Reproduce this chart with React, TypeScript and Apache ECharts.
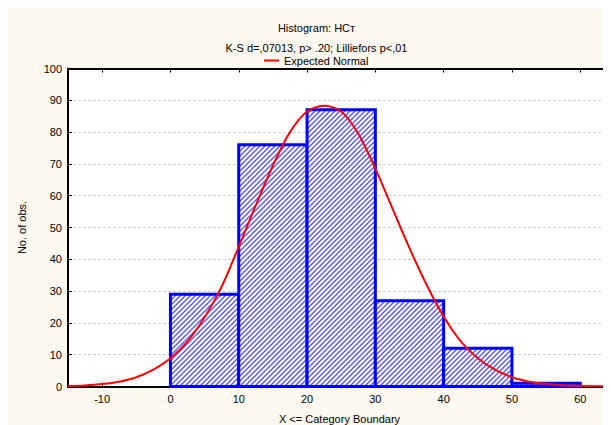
import React, { useEffect, useRef } from "react";
import * as echarts from "echarts";

// Histogram bins (lower / upper category boundaries) and counts
const binLow = [0, 10, 20, 30, 40, 50];
const binHigh = [10, 20, 30, 40, 50, 60];
const binCount = [29, 76, 87, 27, 12, 1];

// Expected normal curve
const curveX = [
  -15, -12.5, -10, -7.5, -5, -2.5, 0, 2.5, 5, 7.5, 10, 12.5, 15, 17.5, 20, 22.5, 25, 27.5, 30, 32.5, 35, 37.5, 40,
  42.5, 45, 47.5, 50, 52.5, 55, 57.5, 60, 62.5, 65,
];
const curveY = [
  0.15, 0.35, 0.75, 1.5, 2.9, 5.3, 8.9, 14.2, 21.8, 31.4, 44, 57, 69.5, 80, 86.5, 88.3, 86.5, 79.5, 68.5, 56, 43.5, 32,
  22, 14.2, 8.9, 5.3, 2.9, 1.5, 0.75, 0.35, 0.15, 0.07, 0.03,
];

// Axis tick labels
const xTicks = [-10, 0, 10, 20, 30, 40, 50, 60];

const titleText = "Histogram: НСт";
const subtitleText = "K-S d=,07013, p> .20; Lilliefors p<,01";
const legendName = "Expected Normal";
const xName = "X <= Category Boundary";
const yName = "No. of obs.";

const FONT = "'Liberation Sans', Arial, sans-serif";

function makePattern(): HTMLCanvasElement {
  const c = document.createElement("canvas");
  const s = 5;
  c.width = s;
  c.height = s;
  const ctx = c.getContext("2d")!;
  ctx.fillStyle = "#ffffff";
  ctx.fillRect(0, 0, s, s);
  ctx.strokeStyle = "#5050ff";
  ctx.lineWidth = 1.3;
  ctx.beginPath();
  ctx.moveTo(-1, s + 1);
  ctx.lineTo(s + 1, -1);
  ctx.moveTo(-1, 1);
  ctx.lineTo(1, -1);
  ctx.moveTo(s - 1, s + 1);
  ctx.lineTo(s + 1, s - 1);
  ctx.stroke();
  return c;
}

export default function App() {
  const ref = useRef<HTMLDivElement>(null);
  useEffect(() => {
    if (!ref.current) return;
    const chart = echarts.init(ref.current, undefined, { renderer: "svg" });
    const pattern = { image: makePattern(), repeat: "repeat" };
    const barData = binLow.map((lo, i) => [lo, binHigh[i], binCount[i]]);
    const curveData = curveX.map((x, i) => [x, curveY[i]]);
    const axisBlack = { show: true, onZero: false, lineStyle: { color: "#000", width: 2 } };
    chart.setOption({
      animation: false,
      backgroundColor: "#fdf9f0",
      textStyle: { fontFamily: FONT },
      graphic: [
        {
          type: "text",
          x: 308.5,
          y: 20,
          style: { text: titleText, font: `11px ${FONT}`, fill: "#000", textAlign: "center", textVerticalAlign: "middle" },
        },
        {
          type: "text",
          x: 308.5,
          y: 39.5,
          style: { text: subtitleText, font: `11px ${FONT}`, fill: "#000", textAlign: "center", textVerticalAlign: "middle" },
        },
      ],
      legend: {
        data: [{ name: legendName, icon: "rect" }],
        left: 256,
        top: 47,
        padding: 0,
        itemWidth: 15,
        itemHeight: 2,
        itemGap: 6,
        textStyle: { fontSize: 11, color: "#000", fontFamily: FONT },
      },
      grid: {
        left: 60,
        top: 60.5,
        right: 0,
        bottom: 38.5,
        outerBoundsMode: "none",
        containLabel: false,
        show: true,
        backgroundColor: "#ffffff",
        borderWidth: 0,
      },
      xAxis: [
        {
          type: "value",
          min: -15,
          max: 64.5,
          position: "bottom",
          name: xName,
          nameLocation: "middle",
          nameGap: 27,
          nameTextStyle: { fontSize: 11, color: "#000", fontFamily: FONT },
          axisLine: axisBlack,
          axisTick: { show: true, inside: true, length: 4, customValues: xTicks, lineStyle: { color: "#000" } },
          axisLabel: { show: true, customValues: xTicks, fontSize: 11, color: "#000", margin: 7, fontFamily: FONT },
          splitLine: { show: false },
        },
        {
          type: "value",
          min: -15,
          max: 64.5,
          position: "top",
          axisLine: axisBlack,
          axisTick: { show: true, inside: true, length: 4, customValues: xTicks, lineStyle: { color: "#000" } },
          axisLabel: { show: false },
          splitLine: { show: false },
        },
      ],
      yAxis: {
        type: "value",
        min: 0,
        max: 100,
        interval: 10,
        name: yName,
        nameLocation: "middle",
        nameGap: 41,
        nameTextStyle: { fontSize: 11, color: "#000", fontFamily: FONT },
        axisLine: axisBlack,
        axisTick: { show: true, inside: true, length: 4, lineStyle: { color: "#000" } },
        axisLabel: { fontSize: 11, color: "#000", margin: 6, fontFamily: FONT },
        splitLine: { show: true, lineStyle: { color: "#cccccc", type: [3, 2], width: 1 } },
      },
      series: [
        {
          type: "custom",
          name: "Histogram",
          xAxisIndex: 0,
          yAxisIndex: 0,
          data: barData,
          encode: { x: [0, 1], y: 2 },
          renderItem: (params: any, api: any) => {
            const p0 = api.coord([api.value(0), api.value(2)]);
            const p1 = api.coord([api.value(1), 0]);
            return {
              type: "rect",
              shape: { x: p0[0], y: p0[1], width: p1[0] - p0[0], height: p1[1] - p0[1] },
              style: { fill: pattern, stroke: "#0000ff", lineWidth: 3 },
            };
          },
          z: 2,
        },
        {
          type: "line",
          name: legendName,
          xAxisIndex: 0,
          yAxisIndex: 0,
          data: curveData,
          smooth: 0.3,
          symbol: "none",
          showSymbol: false,
          lineStyle: { color: "#ff0000", width: 2 },
          itemStyle: { color: "#ff0000" },
          z: 3,
        },
      ],
    });
    return () => chart.dispose();
  }, []);
  return <div ref={ref} style={{ width: 603, height: 417 }} />;
}
